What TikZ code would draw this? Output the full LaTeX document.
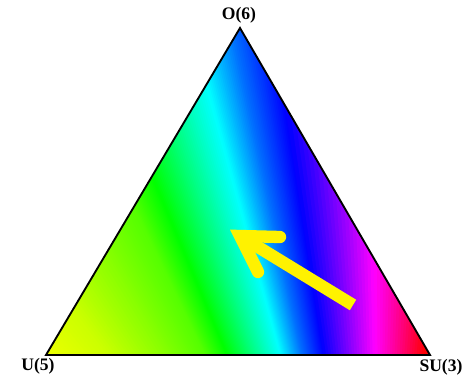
\documentclass[tikz,border=0pt]{standalone}
\usepackage{fontspec}
\setmainfont{Liberation Serif}
\begin{document}
\begin{tikzpicture}[x=0.03cm, y=-0.03cm,
      lbl/.style={font=\fontsize{15}{17}\selectfont\bfseries, inner sep=0pt},
      rim/.style={draw=black, line width=1.6pt, line join=miter},
      mark arrow/.style={draw=yellow, line width=10.5pt}]
    \useasboundingbox (0,0) rectangle (466,376);
    \coordinate (o)  at (240,28);
    \coordinate (u)  at (46,355);
    \coordinate (su) at (430,355);
    \coordinate (fan) at (380,720);
    \begin{scope}
      \clip (o) -- (u) -- (su) -- cycle;
      \foreach \ba/\ha/\bb/\hb in {20/62/100/72, 100/72/160/88, 160/88/200/100, 200/100/223/120,
                                   223/120/250/150, 250/150/278/180, 278/180/300/214,
                                   300/214/322/240, 322/240/375/300, 375/300/425/359, 425/359/450/359}{
        \foreach \k in {0,...,19}{
          \pgfmathsetmacro\xa{\ba+(\bb-\ba)*\k/20}
          \pgfmathsetmacro\xb{\ba+(\bb-\ba)*(\k+1)/20+0.8}
          \pgfmathsetmacro\hh{\ha+(\hb-\ha)*(\k+0.5)/20}
          \definecolor{band}{Hsb}{\hh,1,1}
          \fill[band] (fan) -- ({380+(\xa-380)*1.92},0) -- ({380+(\xb-380)*1.92},0) -- cycle;
        }
      }
    \end{scope}
    \draw[rim] (o) -- (u) -- (su) -- cycle;
    \node[lbl] (lo)  at (239,15)  {O(6)};
    \node[lbl] (lu)  at (38,366)  {U(5)};
    \node[lbl] (lsu) at (441,367) {SU(3)};
    \coordinate (tip)  at (240,236);
    \coordinate (tail) at (353,305);
    \coordinate (w1)   at (280,237);
    \coordinate (w2)   at (258,272);
    \draw[mark arrow, line cap=butt] (tail) -- (tip);
    \draw[mark arrow, line cap=round, line join=miter] (w1) -- (tip) -- (w2);
  \end{tikzpicture}
\end{document}
